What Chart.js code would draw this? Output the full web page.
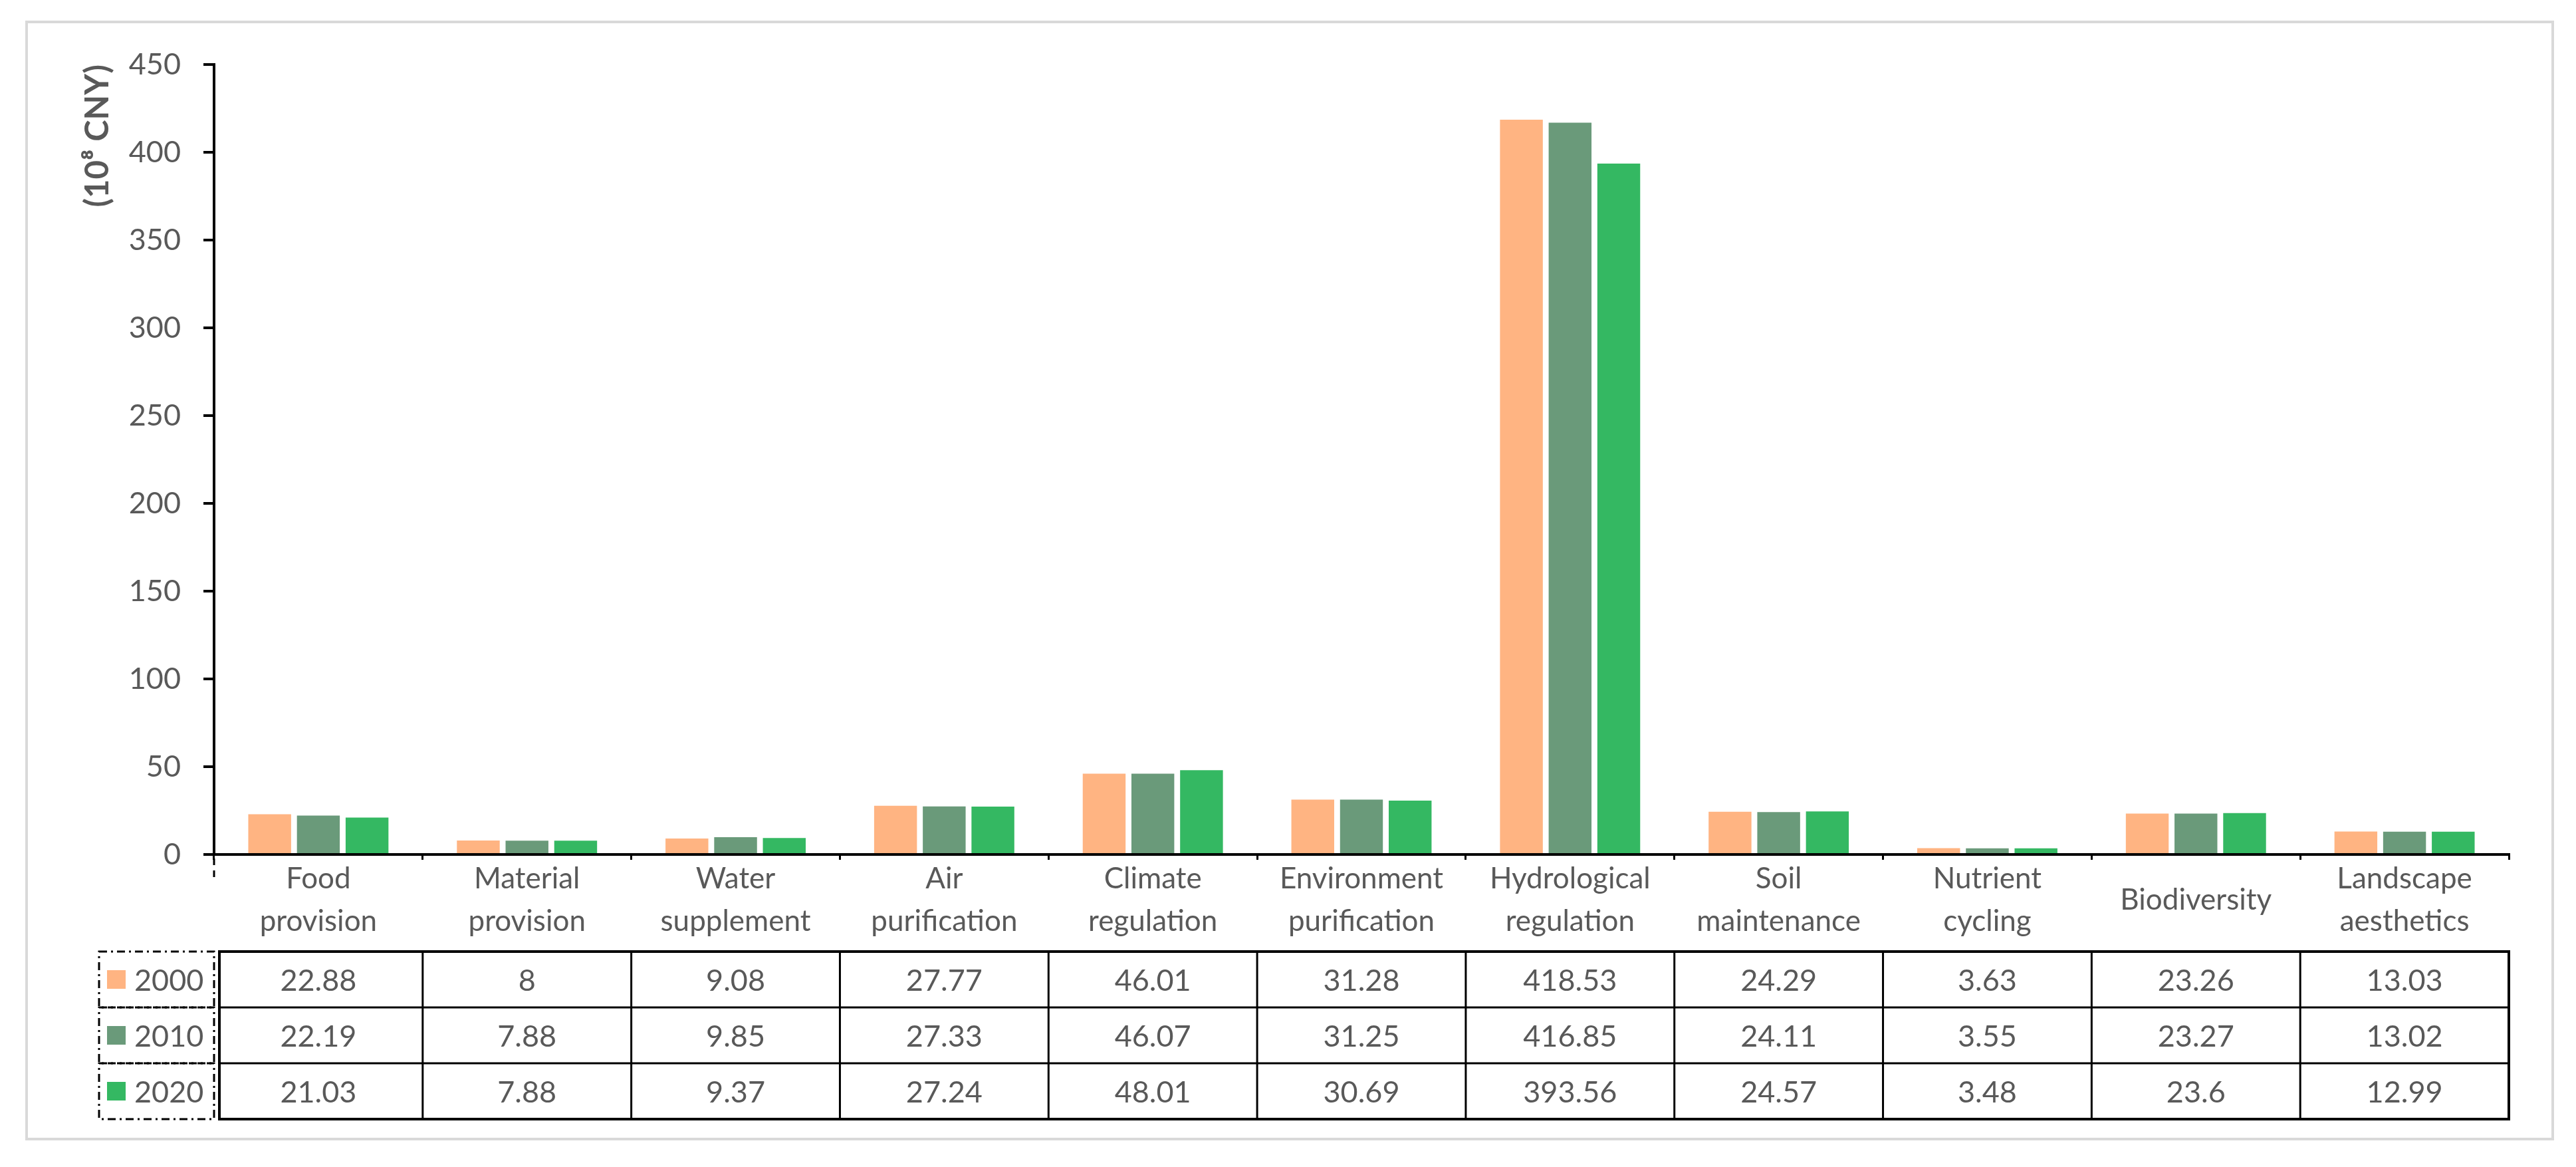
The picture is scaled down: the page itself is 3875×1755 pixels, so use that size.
<!DOCTYPE html>
<html>
<head>
<meta charset="utf-8">
<script src="https://cdn.jsdelivr.net/npm/chart.js@4"></script>
<style>
  html, body { margin: 0; padding: 0; background: #fff; }
  canvas { display: block; }
</style>
</head>
<body>
<canvas id="barChart" width="3875" height="1755"></canvas>
<script>
// ecosystem service values (10^8 CNY)
const categories = [
  ['Food', 'provision'], ['Material', 'provision'], ['Water', 'supplement'],
  ['Air', 'purification'], ['Climate', 'regulation'], ['Environment', 'purification'],
  ['Hydrological', 'regulation'], ['Soil', 'maintenance'], ['Nutrient', 'cycling'],
  'Biodiversity', ['Landscape', 'aesthetics']
];
const years = ['2000', '2010', '2020'];
const values2000 = [22.88, 8, 9.08, 27.77, 46.01, 31.28, 418.53, 24.29, 3.63, 23.26, 13.03];
const values2010 = [22.19, 7.88, 9.85, 27.33, 46.07, 31.25, 416.85, 24.11, 3.55, 23.27, 13.02];
const values2020 = [21.03, 7.88, 9.37, 27.24, 48.01, 30.69, 393.56, 24.57, 3.48, 23.6, 12.99];
const yTicks = [0, 50, 100, 150, 200, 250, 300, 350, 400, 450];

const colors = ['#FFB482', '#6A9A7A', '#34B862'];
const textColor = '#595959';
const fontFamily = 'Lato, "Open Sans", sans-serif';

// data table + legend cells under the x axis
const tablePlugin = {
  id: 'dataTable',
  beforeDraw(chart) {
    const ctx = chart.ctx;
    ctx.save();
    ctx.strokeStyle = '#D9D9D9';
    ctx.lineWidth = 4;
    ctx.strokeRect(40, 33, 3800, 1680);
    ctx.restore();
  },
  afterDraw(chart) {
    const ctx = chart.ctx;
    const x = chart.scales.x;
    const area = chart.chartArea;
    const half = (x.getPixelForValue(1) - x.getPixelForValue(0)) / 2;
    const top = area.bottom + 146;
    const rowH = 84;
    const tableLeft = area.left + 8;
    const tableRight = x.getPixelForValue(categories.length - 1) + half;

    ctx.save();
    // dashed tick at the left end of the x axis
    ctx.strokeStyle = '#000';
    ctx.lineWidth = 3;
    ctx.setLineDash([10, 8]);
    ctx.beginPath();
    ctx.moveTo(area.left, area.bottom + 6);
    ctx.lineTo(area.left, area.bottom + 40);
    ctx.stroke();

    // legend cells with dash-dot borders
    ctx.setLineDash([12, 6, 3, 6]);
    ctx.lineWidth = 3;
    chart.data.datasets.forEach((ds, r) => {
      const y0 = top + r * rowH;
      ctx.strokeRect(149, y0, area.left - 149, rowH);
      ctx.fillStyle = ds.backgroundColor;
      ctx.fillRect(161, y0 + rowH / 2 - 14, 28, 28);
      ctx.fillStyle = textColor;
      ctx.font = '45px ' + fontFamily;
      ctx.textAlign = 'left';
      ctx.textBaseline = 'middle';
      ctx.fillText(ds.label, 202, y0 + rowH / 2 + 2);
    });

    // table grid
    ctx.setLineDash([]);
    ctx.lineWidth = 4;
    ctx.strokeRect(tableLeft, top, tableRight - tableLeft, rowH * 3);
    ctx.lineWidth = 3;
    for (let r = 1; r < 3; r++) {
      ctx.beginPath();
      ctx.moveTo(tableLeft, top + r * rowH);
      ctx.lineTo(tableRight, top + r * rowH);
      ctx.stroke();
    }
    for (let i = 1; i < categories.length; i++) {
      const bx = x.getPixelForValue(i) - half;
      ctx.beginPath();
      ctx.moveTo(bx, top);
      ctx.lineTo(bx, top + rowH * 3);
      ctx.stroke();
    }

    // table values
    ctx.fillStyle = textColor;
    ctx.font = '45px ' + fontFamily;
    ctx.textAlign = 'center';
    ctx.textBaseline = 'middle';
    chart.data.datasets.forEach((ds, r) => {
      ds.data.forEach((v, i) => {
        ctx.fillText(String(v), x.getPixelForValue(i), top + r * rowH + rowH / 2 + 2);
      });
    });
    ctx.restore();
  }
};

new Chart(document.getElementById('barChart'), {
  type: 'bar',
  data: {
    labels: categories,
    datasets: [
      { label: years[0], data: values2000, backgroundColor: colors[0] },
      { label: years[1], data: values2010, backgroundColor: colors[1] },
      { label: years[2], data: values2020, backgroundColor: colors[2] }
    ]
  },
  options: {
    responsive: false,
    animation: false,
    devicePixelRatio: 1,
    categoryPercentage: 0.7,
    barPercentage: 0.88,
    layout: { padding: { top: 97, right: 101, left: 100, bottom: 0 } },
    plugins: {
      legend: { display: false },
      tooltip: { enabled: false }
    },
    scales: {
      x: {
        afterFit(scale) { scale.height = 470; },
        border: { display: true, color: '#000', width: 4 },
        grid: { drawOnChartArea: false, drawTicks: true, tickLength: 8, color: '#000', lineWidth: 3 },
        ticks: {
          color: textColor,
          font: { family: fontFamily, size: 44, lineHeight: 1.46 },
          padding: 29,
          maxRotation: 0,
          autoSkip: false,
          crossAlign: 'center'
        }
      },
      y: {
        min: 0,
        max: 450,
        afterFit(scale) { scale.width = 222; },
        afterBuildTicks(scale) { scale.ticks = yTicks.map(v => ({ value: v })); },
        border: { display: true, color: '#000', width: 4 },
        grid: { drawOnChartArea: false, drawTicks: true, tickLength: 16, color: '#000', lineWidth: 4 },
        ticks: {
          color: textColor,
          font: { family: fontFamily, size: 45 },
          padding: 34
        },
        title: {
          display: true,
          text: '(10⁸ CNY)',
          align: 'end',
          color: textColor,
          font: { family: fontFamily, size: 49, weight: 'bold' },
          padding: { top: 18, bottom: 0 }
        }
      }
    }
  },
  plugins: [tablePlugin]
});
</script>
</body>
</html>
